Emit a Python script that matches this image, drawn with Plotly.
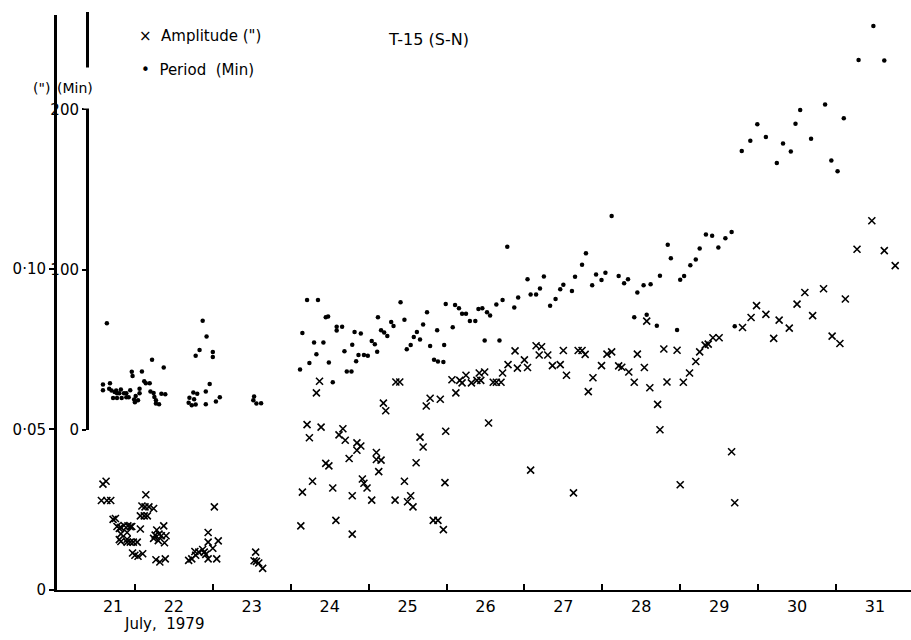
import plotly.graph_objects as go

# ---- T-15 (S-N) tilt record, July 1979 ----------------------------------
# time in days (day d spans [d, d+1]), amplitude in arc-seconds, period in minutes

period_t = [
    21.64, 21.59, 21.59, 21.68, 21.67, 21.70, 21.72, 21.74, 21.76, 21.77, 21.77, 21.80, 21.82, 21.83,
    21.86, 21.89, 21.89, 21.92, 21.94, 21.96, 21.97, 21.99, 22.00, 22.01, 22.04, 22.06, 22.06, 22.09,
    22.12, 22.14, 22.19, 22.22, 22.20, 22.24, 22.25, 22.27, 22.27, 22.31, 22.34, 22.39, 22.37,
    22.70, 22.75, 22.80, 22.76, 22.69, 22.73, 22.78, 22.78, 22.83, 22.87, 22.92, 23.00, 23.00, 22.96,
    22.91, 22.91, 23.04, 23.09,
    23.53, 23.52, 23.56, 23.62,
    24.12, 24.15, 24.21, 24.35, 24.24, 24.30, 24.33, 24.42, 24.45, 24.48, 24.49, 24.54, 24.59, 24.59,
    24.66, 24.69, 24.72, 24.78, 24.79, 24.82, 24.84, 24.87, 24.90, 24.94, 24.99,
    25.04, 25.08, 25.12, 25.11, 25.16, 25.20, 25.24, 25.29, 25.32, 25.41, 25.46, 25.49, 25.54, 25.58,
    25.62, 25.66, 25.70, 25.75, 25.79, 25.84, 25.88, 25.89, 25.97, 25.96, 25.99,
    26.08, 26.11, 26.16, 26.20, 26.25, 26.30, 26.37, 26.41, 26.46, 26.49, 26.52, 26.56, 26.64, 26.68,
    26.72, 26.78, 26.87, 26.92,
    27.04, 27.08, 27.15, 27.20, 27.25, 27.33, 27.40, 27.46, 27.50, 27.61, 27.65, 27.74, 27.79, 27.87,
    27.92, 27.99,
    28.04, 28.12, 28.21, 28.28, 28.33, 28.45, 28.53, 28.62, 28.74, 28.84, 28.88, 28.41, 28.57, 28.70,
    28.96,
    29.00, 29.05, 29.13, 29.20, 29.25, 29.33, 29.41, 29.49, 29.58, 29.66, 29.70, 29.79, 29.90, 29.99,
    30.10, 30.24, 30.32, 30.42, 30.48, 30.54, 30.68, 30.86, 30.94, 31.02, 31.10,
    31.48, 31.29, 31.62,
]
period_min = [
    66.6, 28.3, 24.8, 29.1, 25.7, 24.6, 19.9, 23.6, 24.6, 22.8, 19.9, 22.8, 25.2, 19.9,
    22.8, 22.8, 20.3, 20.3, 24.8, 36.3, 33.7, 18.9, 17.2, 21.1, 18.5, 25.7, 22.8, 36.5,
    30.3, 29.1, 29.1, 43.7, 24.0, 23.0, 20.5, 18.5, 16.4, 16.0, 22.6, 22.2, 39.0,
    20.1, 23.4, 22.6, 19.1, 17.0, 15.4, 15.8, 46.2, 49.8, 68.1, 58.3, 48.6, 45.5, 28.7,
    24.0, 16.0, 17.7, 20.3,
    20.9, 18.5, 16.4, 16.6,
    37.7, 60.5, 81.0, 81.0, 41.7, 54.6, 47.2, 54.6, 70.3, 70.8, 42.0, 29.7, 62.0, 64.4,
    64.4, 49.0, 36.5, 36.5, 53.1, 61.1, 42.9, 46.8, 60.1, 46.8, 46.2,
    55.4, 53.4, 70.3, 48.8, 62.2, 60.7, 58.6, 67.3, 64.8, 79.6, 68.7, 50.3, 52.9, 58.0,
    61.1, 56.4, 65.7, 73.4, 52.3, 43.7, 62.2, 42.6, 52.9, 42.3, 78.6,
    64.0, 78.0, 75.9, 72.4, 72.4, 67.9, 67.9, 75.5, 75.9, 55.8, 73.4, 71.4, 78.2, 55.8,
    81.0, 114.3, 76.3, 82.6,
    94.0, 84.5, 84.5, 88.2, 95.8, 77.5, 81.7, 87.8, 90.6, 86.6, 95.6, 103.0, 110.2, 90.3,
    96.9, 93.5,
    98.0, 133.5, 96.0, 91.5, 94.0, 85.7, 90.3, 90.9, 96.2, 115.5, 107.1, 70.3, 71.8, 65.0,
    62.3,
    93.7, 96.0, 102.8, 106.3, 113.2, 122.0, 121.2, 113.8, 119.6, 123.5, 64.6, 174.0, 180.5, 190.8,
    182.8, 166.6, 178.7, 173.7, 191.0, 199.6, 181.7, 203.1, 168.2, 161.4, 194.5,
    252.1, 230.8, 230.6,
]

amp_t = [
    21.59, 21.63, 21.57, 21.64, 21.69, 21.72, 21.75, 21.77, 21.80, 21.82, 21.86, 21.91, 21.94, 21.96,
    21.82, 21.90, 21.80, 21.82, 21.90, 21.90, 21.94, 21.98, 22.03, 21.97, 22.00, 22.04, 22.10, 22.07,
    22.14, 22.09, 22.13, 22.18, 22.24, 22.07, 22.12, 22.16, 22.28, 22.26, 22.31, 22.37, 22.34, 22.40,
    22.24, 22.30, 22.38, 22.27, 22.32, 22.39,
    22.69, 22.73, 22.78, 22.77, 22.82, 22.87, 22.89, 22.91, 22.94, 23.00, 23.07, 22.94, 23.05, 22.94,
    23.02,
    23.55, 23.53, 23.56, 23.59, 23.64,
    24.15, 24.13, 24.28, 24.45, 24.49, 24.54, 24.58, 24.75, 24.79, 24.79, 24.92, 24.94, 24.98, 25.04,
    25.10, 25.16, 25.13,
    24.21, 24.24, 24.39, 24.37, 24.33, 24.67, 24.62, 24.70, 24.85, 24.90, 24.85, 25.10,
    25.46, 25.34, 25.50, 25.54, 25.57, 25.61, 25.83, 25.89, 25.96, 25.98,
    25.35, 25.40, 25.19, 25.22, 25.66, 25.70, 25.74, 25.79, 25.92, 25.99,
    26.12, 26.07, 26.17, 26.20, 26.25, 26.32, 26.39, 26.44, 26.42, 26.49, 26.54, 26.60, 26.64, 26.70,
    26.72, 26.79, 26.88, 26.91, 27.00, 27.04, 27.15, 27.22, 27.19, 27.30, 27.08,
    27.36, 27.46, 27.54, 27.50, 27.63, 27.69, 27.74, 27.78, 27.82, 27.88, 27.99, 28.06, 28.12, 28.21,
    28.25, 28.34, 28.41, 28.45,
    28.54, 28.61, 28.71, 28.74, 28.79, 28.83, 28.96, 29.00, 29.04, 29.12, 29.20, 29.25, 29.32, 29.36,
    29.42, 29.50, 28.57,
    29.66, 29.70, 29.80, 29.91, 29.98, 30.10, 30.20, 30.27, 30.40, 30.50, 30.60, 30.70, 30.84, 30.95,
    31.05, 31.12, 31.27, 31.46, 31.62, 31.76,
]
amp_arcsec = [
    .0329, .0338, .0278, .0278, .0278, .0219, .0222, .0197, .0191, .0194, .0200, .0199, .0196, .0197,
    .0174, .0178, .0156, .0150, .0157, .0148, .0148, .0148, .0148, .0114, .0107, .0104, .0112, .0189,
    .0296, .0261, .0258, .0258, .0253, .0230, .0230, .0230, .0186, .0170, .0173, .0199, .0168, .0168,
    .0160, .0153, .0146, .0093, .0086, .0096,
    .0091, .0096, .0107, .0119, .0117, .0125, .0117, .0110, .0148, .0129, .0152, .0096, .0096, .0178,
    .0258,
    .0117, .0090, .0088, .0083, .0066,
    .0304, .0199, .0338, .0394, .0386, .0317, .0216, .0409, .0293, .0173, .0345, .0332, .0317, .0279,
    .0406, .0404, .0368,
    .0515, .0474, .0507, .0650, .0614, .0502, .0483, .0466, .0458, .0448, .0435, .0428,
    .0338, .0279, .0274, .0293, .0258, .0396, .0216, .0216, .0187, .0334,
    .0648, .0648, .0582, .0558, .0476, .0445, .0573, .0597, .0594, .0494,
    .0614, .0655, .0653, .0645, .0669, .0645, .0653, .0653, .0676, .0679, .0520, .0647, .0647, .0647,
    .0676, .0702, .0745, .0691, .0717, .0693, .0761, .0758, .0732, .0732, .0373,
    .0699, .0702, .0669, .0746, .0302, .0746, .0746, .0734, .0618, .0661, .0699, .0735, .0742, .0698,
    .0694, .0679, .0647, .0735,
    .0693, .0630, .0578, .0499, .0751, .0648, .0747, .0327, .0647, .0676, .0712, .0742, .0763, .0766,
    .0786, .0786, .0838,
    .0430, .0271, .0818, .0849, .0886, .0859, .0784, .0841, .0816, .0891, .0927, .0855, .0939, .0791,
    .0768, .0907, .1062, .1151, .1058, .1011,
]

day_labels = ["21", "22", "23", "24", "25", "26", "27", "28", "29", "30", "31"]
day_label_pos = [21.72, 22.5, 23.5, 24.5, 25.5, 26.5, 27.5, 28.5, 29.5, 30.5, 31.5]
day_bounds = [22, 23, 24, 25, 26, 27, 28, 29, 30, 31]

amp_ticks = [0, 0.05, 0.10]
amp_ticktext = ["0", "0·05", "0·10"]
period_ticks = [0, 100, 200]
period_ticktext = ["0", "100", "200"]

W, H = 911, 640
FONT = "DejaVu Sans"

# page geometry (pixels from top-left)
X_AMP_AXIS, X_PER_AXIS, X_RIGHT = 57, 87, 911
Y_BASE, Y_AMP_TOP = 598, 15          # amplitude axis: 0 at the base line
Y_PER_ZERO, Y_PER_TOP = 436, 12      # period axis: starts at its own zero
AMP_PX_PER_UNIT = 3250.0             # 0.10" per 325 px
PER_PX_PER_MIN = 1.625               # 100 min per 162.5 px
SPINE_W = 3


def px(x):
    return x / W


def py(y):
    return 1 - y / H


fig = go.Figure()

fig.add_trace(go.Scatter(
    x=amp_t, y=amp_arcsec, mode="markers", name='Amplitude (")',
    marker=dict(symbol="x-thin", size=7, line=dict(width=1.6, color="black")),
))
fig.add_trace(go.Scatter(
    x=period_t, y=period_min, mode="markers", name="Period (Min)", yaxis="y2",
    marker=dict(symbol="circle", size=4.5, color="black"),
))

fig.update_layout(
    width=W, height=H,
    margin=dict(l=0, r=0, t=0, b=0),
    paper_bgcolor="white", plot_bgcolor="rgba(0,0,0,0)",
    showlegend=False,
    font=dict(family=FONT, color="black", size=15),
    xaxis=dict(
        domain=[px(X_AMP_AXIS), px(X_RIGHT)],
        range=[21.0, 21.0 + (X_RIGHT - X_AMP_AXIS) / 77.9],
        tickmode="array", tickvals=day_label_pos, ticktext=day_labels, ticks="",
        tickfont=dict(size=16), ticklabelstandoff=1,
        showline=True, linewidth=2, linecolor="black",
        showgrid=False, zeroline=False,
        minor=dict(tickmode="array", tickvals=day_bounds, ticks="inside",
                   ticklen=6, tickwidth=1.5, tickcolor="black", showgrid=False),
    ),
    yaxis=dict(
        domain=[py(Y_BASE), py(Y_AMP_TOP)],
        range=[0, (Y_BASE - Y_AMP_TOP) / AMP_PX_PER_UNIT],
        tickmode="array", tickvals=amp_ticks, ticktext=amp_ticktext,
        ticks="outside", ticklen=5, tickwidth=1.5, tickcolor="black",
        tickfont=dict(size=15),
        showline=True, linewidth=SPINE_W, linecolor="black",
        showgrid=False, zeroline=False,
    ),
    yaxis2=dict(
        anchor="free", position=px(X_PER_AXIS), side="left",
        domain=[py(Y_PER_ZERO), py(Y_PER_TOP)],
        range=[0, (Y_PER_ZERO - Y_PER_TOP) / PER_PX_PER_MIN],
        tickmode="array", tickvals=period_ticks, ticktext=period_ticktext,
        ticks="outside", ticklen=4, tickwidth=1.5, tickcolor="black",
        tickfont=dict(size=15),
        showline=True, linewidth=SPINE_W, linecolor="black",
        showgrid=False, zeroline=False,
    ),
)

# the period spine is broken where the unit labels sit
fig.add_annotation(xref="paper", yref="paper", x=px(X_PER_AXIS), y=py(89),
                   text=" ", showarrow=False, width=7, height=40, borderpad=0,
                   bgcolor="white", xanchor="center", yanchor="middle")

annotations = [
    dict(text="T-15 (S-N)", x=px(428), y=py(40), xanchor="center", yanchor="middle", font=dict(size=16)),
    dict(text='×  Amplitude (")', x=px(137), y=py(37), xanchor="left", yanchor="middle", font=dict(size=15)),
    dict(text="•  Period  (Min)", x=px(139), y=py(71), xanchor="left", yanchor="middle", font=dict(size=15)),
    dict(text='(")', x=px(41), y=py(89), xanchor="center", yanchor="middle", font=dict(size=14)),
    dict(text="(Min)", x=px(75), y=py(89), xanchor="center", yanchor="middle", font=dict(size=14)),
    dict(text="July,  1979", x=px(164), y=py(633), xanchor="center", yanchor="middle", font=dict(size=15)),
]
for a in annotations:
    fig.add_annotation(xref="paper", yref="paper", showarrow=False, **a)

fig.write_html("out.html")
